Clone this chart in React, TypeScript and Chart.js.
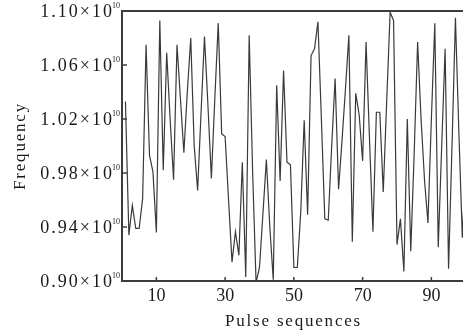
import React, { useEffect, useRef } from "react";
import { Chart, registerables } from "chart.js";

Chart.register(...registerables);

// Pulse sequence index (x) and measured frequency in units of 1e10 Hz (y)
const pulseIndex: number[] = Array.from({ length: 100 }, (_, i) => i + 1);
const frequencyE10: number[] = [
  1.033, 0.934, 0.956, 0.939, 0.939, 0.961, 1.075, 0.993, 0.981, 0.936,
  1.093, 0.982, 1.069, 1.02, 0.975, 1.075, 1.035, 0.995, 1.04, 1.08,
  1.0, 0.967, 1.025, 1.081, 1.03, 0.976, 1.035, 1.091, 1.009, 1.007,
  0.96, 0.914, 0.9365, 0.919, 0.988, 0.903, 1.082, 0.981, 0.899, 0.91,
  0.95, 0.99, 0.94, 0.901, 1.045, 0.974, 1.056, 0.988, 0.986, 0.91,
  0.91, 0.951, 1.019, 0.949, 1.067, 1.072, 1.092, 1.02, 0.946, 0.945,
  1.0, 1.05, 0.968, 1.004, 1.042, 1.082, 0.929, 1.039, 1.023, 0.989,
  1.077, 1.005, 0.9365, 1.025, 1.025, 0.966, 1.033, 1.099, 1.093, 0.927,
  0.946, 0.907, 1.02, 0.922, 0.995, 1.077, 1.02, 0.975, 0.943, 1.02,
  1.091, 0.925, 1.0, 1.072, 0.909, 1.0, 1.095, 1.01, 0.932, 0.99,
];
const yTicks: number[] = [0.9, 0.94, 0.98, 1.02, 1.06, 1.1];
const yTickLabels: string[] = ["0.90", "0.94", "0.98", "1.02", "1.06", "1.10"];
const xTicks: number[] = [10, 30, 50, 70, 90];
const xTickLabels: string[] = ["10", "30", "50", "70", "90"];
const xTitle = "Pulse sequences";
const yTitle = "Frequency";

const FONT = '"Liberation Serif", "DejaVu Serif", serif';
const TEXT = "#1a1a1a";
const FRAME = "#3c3c3c";

const decorPlugin = {
  id: "decor",
  afterDraw(chart: any) {
    const ctx: CanvasRenderingContext2D = chart.ctx;
    const area = chart.chartArea;
    const xs = chart.scales.x;
    const ys = chart.scales.y;
    ctx.save();
    // top frame
    ctx.strokeStyle = FRAME;
    ctx.lineWidth = 2;
    ctx.beginPath();
    ctx.moveTo(area.left - 1, area.top);
    ctx.lineTo(area.right, area.top);
    ctx.stroke();
    // y ticks
    ctx.lineWidth = 1.5;
    yTicks.forEach((v) => {
      const py = ys.getPixelForValue(v);
      ctx.beginPath();
      ctx.moveTo(area.left, py);
      ctx.lineTo(area.left + 5, py);
      ctx.stroke();
    });
    xTicks.forEach((v) => {
      const px = xs.getPixelForValue(v);
      ctx.beginPath();
      ctx.moveTo(px, area.bottom);
      ctx.lineTo(px, area.bottom - 4);
      ctx.stroke();
    });
    ctx.fillStyle = TEXT;
    // y tick labels with superscript exponent
    yTicks.forEach((v, i) => {
      const py = ys.getPixelForValue(v);
      ctx.font = `18px ${FONT}`;
      (ctx as any).letterSpacing = "2px";
      ctx.textAlign = "right";
      ctx.textBaseline = "middle";
      ctx.fillText(yTickLabels[i] + "\u00d710", area.left - 8, py + 1);
      (ctx as any).letterSpacing = "0px";
      ctx.font = `8px ${FONT}`;
      ctx.textAlign = "left";
      ctx.fillText("10", area.left - 10, py - 5);
    });
    // x tick labels
    ctx.font = `18px ${FONT}`;
    (ctx as any).letterSpacing = "0px";
    ctx.textAlign = "center";
    ctx.textBaseline = "alphabetic";
    xTicks.forEach((v, i) => {
      const px = xs.getPixelForValue(v);
      ctx.fillText(xTickLabels[i], px, area.bottom + 20);
    });
    // x title
    (ctx as any).letterSpacing = "1.8px";
    ctx.font = `17px ${FONT}`;
    ctx.fillText(xTitle, (area.left + area.right) / 2 + 1, area.bottom + 45);
    // y title
    ctx.translate(25, (area.top + area.bottom) / 2);
    ctx.rotate(-Math.PI / 2);
    ctx.textAlign = "center";
    ctx.fillText(yTitle, 0, 0);
    ctx.restore();
  },
};

export default function App() {
  const canvasRef = useRef<HTMLCanvasElement | null>(null);

  useEffect(() => {
    if (!canvasRef.current) return;
    const chart = new Chart(canvasRef.current, {
      type: "line",
      data: {
        datasets: [
          {
            data: pulseIndex.map((x, i) => ({ x, y: frequencyE10[i] })),
            borderColor: "#3a3a3a",
            borderWidth: 1.2,
            pointRadius: 0,
            tension: 0,
            fill: false,
          },
        ],
      },
      options: {
        animation: false,
        responsive: false,
        devicePixelRatio: 1,
        events: [],
        layout: { padding: { top: 11, left: 0, right: 0, bottom: 0 } },
        plugins: {
          legend: { display: false },
          tooltip: { enabled: false },
          title: { display: false },
        },
        scales: {
          x: {
            type: "linear",
            min: 0,
            max: 99.2,
            grid: { display: false },
            border: { display: true, color: FRAME, width: 2 },
            ticks: { display: false },
            afterFit: (s: any) => {
              s.height = 54;
            },
          },
          y: {
            type: "linear",
            min: 0.9,
            max: 1.1,
            grid: { display: false },
            border: { display: true, color: FRAME, width: 2 },
            ticks: { display: false },
            afterFit: (s: any) => {
              s.width = 122;
            },
          },
        },
      },
      plugins: [decorPlugin],
    });
    return () => chart.destroy();
  }, []);

  return (
    <div style={{ position: "fixed", left: 0, top: 0, width: 463, height: 335, background: "#fff" }}>
      <canvas ref={canvasRef} width={463} height={335} style={{ display: "block" }} />
    </div>
  );
}
